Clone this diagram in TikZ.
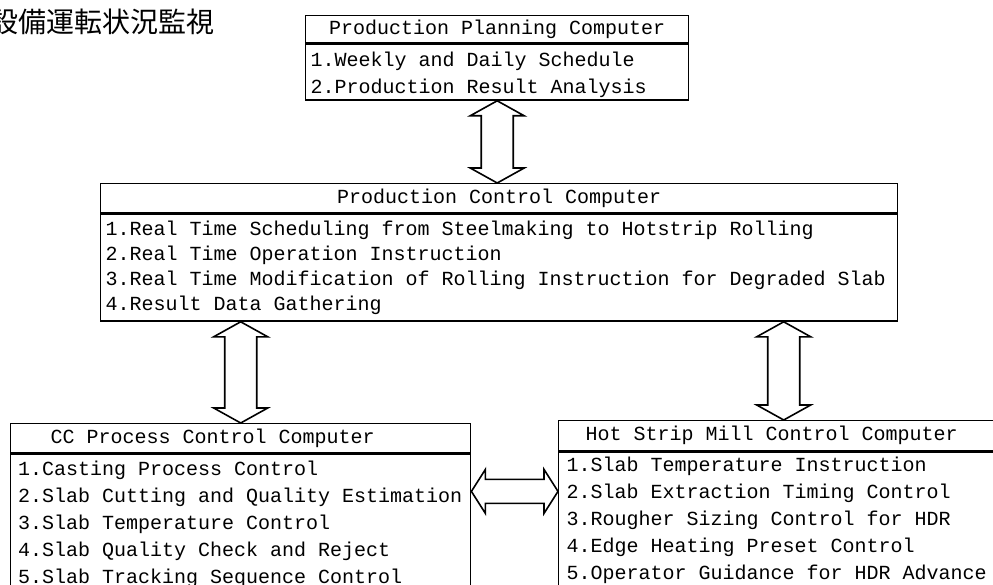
\documentclass[tikz,border=0pt]{standalone}
\usepackage{fontspec}
\setmonofont{Liberation Mono}
\newfontfamily\jpfont{Noto Sans CJK JP}
\usetikzlibrary{calc,positioning}

\newcommand{\mono}[1]{\ttfamily\fontsize{20}{#1}\selectfont\spaceskip=12pt\xspaceskip=12pt\relax}

\newcommand{\vfat}[2]{%
  \draw[fat] let \p1=(#1), \p2=(#2) in
    (\x1,\y1) -- (\x1+27pt,\y1-15pt) -- (\x1+16pt,\y1-15pt)
    -- (\x1+16pt,\y2+15pt) -- (\x1+27pt,\y2+15pt) -- (\x1,\y2)
    -- (\x1-27pt,\y2+15pt) -- (\x1-16pt,\y2+15pt)
    -- (\x1-16pt,\y1-15pt) -- (\x1-27pt,\y1-15pt) -- cycle;}
\newcommand{\hfat}[2]{%
  \draw[fat] let \p1=(#1), \p2=(#2) in
    (\x1,\y1) -- (\x1+14pt,\y1+22pt) -- (\x1+14pt,\y1+12pt)
    -- (\x2-14pt,\y1+12pt) -- (\x2-14pt,\y1+22pt) -- (\x2,\y1)
    -- (\x2-14pt,\y1-22pt) -- (\x2-14pt,\y1-12pt)
    -- (\x1+14pt,\y1-12pt) -- (\x1+14pt,\y1-22pt) -- cycle;}

\begin{document}
\begin{tikzpicture}[x=1pt, y=-1pt,
    box/.style={draw, line width=1.4pt, inner ysep=0pt, font=\mono{27}},
    head/.style={box, align=flush center, inner xsep=0pt},
    body/.style={box, align=flush left, inner xsep=5pt},
    fat/.style={draw, line width=1.6pt, fill=white, line join=miter}
]
\useasboundingbox (0,0) rectangle (993,585);
\clip (0,0) rectangle (993,585);

\node[anchor=west, inner sep=0pt, font=\jpfont\fontsize{28}{28}\selectfont] (title) at (-10,22) {設備運転状況監視};

\node[head, text width=383pt, minimum height=27pt, anchor=north west] (ppcHead) at (305,15) {Production Planning Computer};
\node[body, text width=373pt, minimum height=56pt, anchor=north west] (ppc) at (ppcHead.south west)
    {\rule{0pt}{19pt}1.Weekly and Daily Schedule\\2.Production Result Analysis};

\node[head, text width=797pt, minimum height=29pt, anchor=north west] (pccHead) at (100,183) {Production Control Computer};
\node[body, text width=787pt, minimum height=107pt, anchor=north west, font=\mono{25}] (pcc) at (pccHead.south west)
    {1.Real Time Scheduling from Steelmaking to Hotstrip Rolling\\
     2.Real Time Operation Instruction\\
     3.Real Time Modification of Rolling Instruction for Degraded Slab\\
     4.Result Data Gathering};

\node[head, align=flush left, inner xsep=40pt, text width=380pt, minimum height=29pt, anchor=north west] (ccHead) at (10,423) {CC Process Control Computer};
\node[body, inner xsep=7.5pt, text width=445pt, minimum height=140pt, anchor=north west] (cc) at (ccHead.south west)
    {1.Casting Process Control\\
     2.Slab Cutting and Quality Estimation\\
     3.Slab Temperature Control\\
     4.Slab Quality Check and Reject\\
     5.Slab Tracking Sequence Control};

\node[head, align=flush left, inner xsep=27pt, text width=396pt, minimum height=30pt, anchor=north west] (hsmHead) at (558,420) {Hot Strip Mill Control Computer};
\node[body, inner xsep=8pt, text width=434pt, minimum height=136pt, anchor=north west] (hsm) at (hsmHead.south west)
    {1.Slab Temperature Instruction\\
     2.Slab Extraction Timing Control\\
     3.Rougher Sizing Control for HDR\\
     4.Edge Heating Preset Control\\
     5.Operator Guidance for HDR Advance};

\vfat{ppc.south}{pccHead.north}
\vfat{ccHead.north |- pcc.south}{ccHead.north}
\vfat{hsmHead.north |- pcc.south}{hsmHead.north}
\coordinate (link) at ($(ccHead.south east)+(0,38)$);
\hfat{link}{link -| hsm.west}
\end{tikzpicture}
\end{document}
